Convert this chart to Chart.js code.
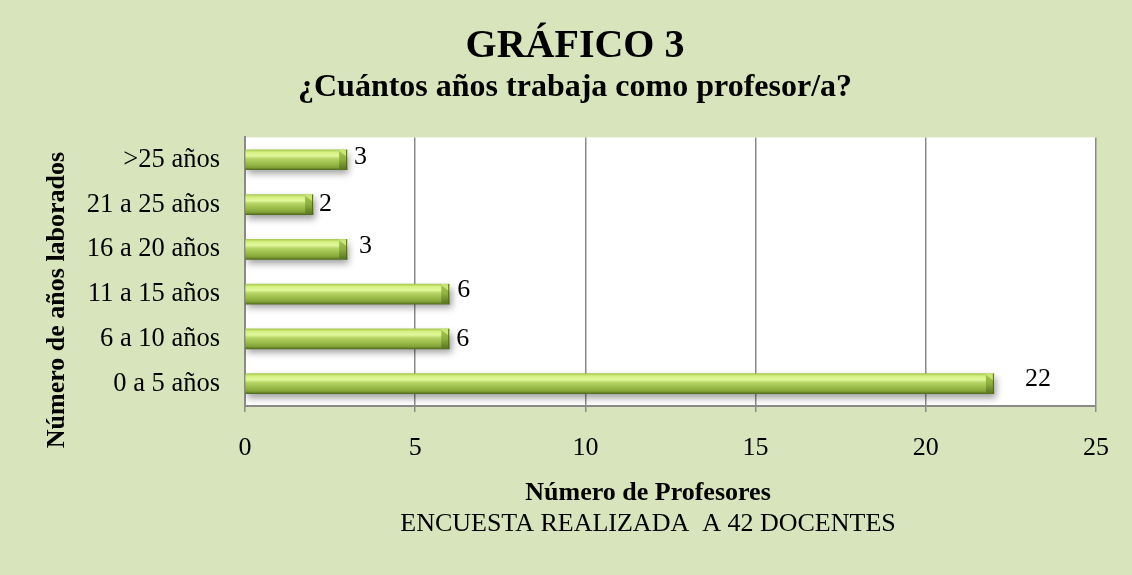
<!DOCTYPE html>
<html>
<head>
<meta charset="utf-8">
<script src="https://cdn.jsdelivr.net/npm/chart.js@4/dist/chart.umd.min.js"></script>
<style>
  html, body { margin: 0; padding: 0; background: #D8E4BC; }
  #wrap { width: 1132px; height: 575px; position: relative; }
</style>
</head>
<body>
<div id="wrap"><canvas id="c" width="1132" height="575"></canvas></div>
<script>
// ---- data ----
const chartTitle = "GRÁFICO 3";
const chartSubtitle = "¿Cuántos años trabaja como profesor/a?";
const xAxisTitle = "Número de Profesores";
const yAxisTitle = "Número de años laborados";
const footNote = "ENCUESTA REALIZADA  A 42 DOCENTES";
const categories = [">25 años", "21 a 25 años", "16 a 20 años", "11 a 15 años", "6 a 10 años", "0 a 5 años"];
const values = [3, 2, 3, 6, 6, 22];
const xTicks = [0, 5, 10, 15, 20, 25];

// ---- styles (label nudges in pixels: [dx from bar end, dy from bar centre]) ----
const labelNudge = [[7, -3], [6, 0], [12, -3], [8, -4], [7, 0], [31, -4]];
const FONT = "'Liberation Serif', 'Times New Roman', serif";
const GRID = '#8a8a8a';

const bgPlugin = {
  id: 'bg',
  beforeDraw(chart) {
    const { ctx, chartArea: a } = chart;
    ctx.save();
    ctx.fillStyle = '#D8E4BC';
    ctx.fillRect(0, 0, chart.width, chart.height);
    ctx.fillStyle = '#ffffff';
    ctx.fillRect(a.left, a.top, a.right - a.left, a.bottom - a.top);
    ctx.restore();
  }
};

const shadowPlugin = {
  id: 'barShadow',
  beforeDatasetDraw(chart) {
    const ctx = chart.ctx;
    ctx.save();
    ctx.shadowColor = 'rgba(0,0,0,0.38)';
    ctx.shadowBlur = 7;
    ctx.shadowOffsetX = 2;
    ctx.shadowOffsetY = 4;
  },
  afterDatasetDraw(chart) {
    chart.ctx.restore();
  }
};

const decoPlugin = {
  id: 'deco',
  afterDatasetsDraw(chart) {
    const ctx = chart.ctx;
    const meta = chart.getDatasetMeta(0);
    meta.data.forEach((bar, i) => {
      const h = bar.height;
      const top = bar.y - h / 2, bottom = bar.y + h / 2;
      const x = bar.x, b = 8;
      // bevel end cap
      ctx.save();
      const g = ctx.createLinearGradient(0, top, 0, bottom);
      g.addColorStop(0, '#a9c852');
      g.addColorStop(0.5, '#8cae3e');
      g.addColorStop(1, '#58731f');
      ctx.fillStyle = g;
      ctx.beginPath();
      ctx.moveTo(x - b, top + 1);
      ctx.lineTo(x, top + 7);
      ctx.lineTo(x, bottom);
      ctx.lineTo(x - b, bottom - 1);
      ctx.closePath();
      ctx.fill();
      ctx.fillStyle = 'rgba(200,228,120,0.9)';
      ctx.beginPath();
      ctx.moveTo(x - b, top);
      ctx.lineTo(x, top);
      ctx.lineTo(x, top + 7);
      ctx.lineTo(x - b, top + 1);
      ctx.closePath();
      ctx.fill();
      ctx.strokeStyle = '#4f6a1c';
      ctx.lineWidth = 1;
      ctx.beginPath();
      ctx.moveTo(x - 0.5, top);
      ctx.lineTo(x - 0.5, bottom);
      ctx.stroke();
      ctx.restore();
      // value label
      const n = labelNudge[i] || [6, 0];
      ctx.save();
      ctx.fillStyle = '#000';
      ctx.font = `26px ${FONT}`;
      ctx.textAlign = 'left';
      ctx.textBaseline = 'middle';
      ctx.fillText(String(values[i]), x + n[0], bar.y + n[1]);
      ctx.restore();
    });
  },
  afterDraw(chart) {
    const ctx = chart.ctx;
    ctx.save();
    ctx.fillStyle = '#000';
    ctx.textAlign = 'center';
    ctx.textBaseline = 'middle';
    ctx.font = `bold 26px ${FONT}`;
    ctx.fillText(xAxisTitle, 648, 493);
    ctx.font = `26px ${FONT}`;
    ctx.fillText(footNote, 648, 524);
    ctx.translate(57, 300);
    ctx.rotate(-Math.PI / 2);
    ctx.font = `bold 26px ${FONT}`;
    ctx.fillText(yAxisTitle, 0, 0);
    ctx.restore();
  }
};

function barFill(context) {
  const chart = context.chart;
  const ys = chart.scales.y;
  if (!ys || !chart.chartArea) return '#9bbb59';
  const cy = ys.getPixelForValue(context.dataIndex);
  const h = 20;
  const g = chart.ctx.createLinearGradient(0, cy - h / 2, 0, cy + h / 2);
  g.addColorStop(0.0, '#a9c94f');
  g.addColorStop(0.12, '#d4ef80');
  g.addColorStop(0.3, '#e2f89c');
  g.addColorStop(0.45, '#b5d465');
  g.addColorStop(0.7, '#9aba48');
  g.addColorStop(0.88, '#84a338');
  g.addColorStop(1.0, '#546d20');
  return g;
}

new Chart(document.getElementById('c'), {
  type: 'bar',
  data: {
    labels: categories,
    datasets: [{
      data: values,
      backgroundColor: barFill,
      borderWidth: 0,
      barThickness: 20
    }]
  },
  options: {
    indexAxis: 'y',
    responsive: false,
    animation: false,
    devicePixelRatio: 1,
    layout: { padding: { top: 25, left: 54, right: 36, bottom: 0 } },
    plugins: {
      legend: { display: false },
      tooltip: { enabled: false },
      title: {
        display: true,
        text: chartTitle,
        color: '#000',
        font: { family: FONT, size: 40, weight: 'bold', lineHeight: 1.1 },
        padding: { top: 0, bottom: 0 }
      },
      subtitle: {
        display: true,
        text: chartSubtitle,
        color: '#000',
        font: { family: FONT, size: 32, weight: 'bold', lineHeight: 1.2 },
        padding: { top: 0, bottom: 30 }
      }
    },
    scales: {
      x: {
        type: 'linear',
        min: 0,
        max: 25,
        afterBuildTicks(scale) { scale.ticks = xTicks.map(v => ({ value: v })); },
        afterFit(scale) { scale.height = 169; },
        grid: { color: GRID, lineWidth: 1.5, drawTicks: true, tickLength: 6, tickColor: GRID },
        border: { display: true, color: GRID, width: 2 },
        ticks: { color: '#000', font: { family: FONT, size: 26 }, padding: 21, maxRotation: 0 }
      },
      y: {
        afterFit(scale) { scale.width = 191; },
        grid: { display: false },
        border: { display: true, color: GRID, width: 2 },
        ticks: { color: '#000', font: { family: FONT, size: 26.5 }, padding: 17 }
      }
    }
  },
  plugins: [bgPlugin, shadowPlugin, decoPlugin]
});
</script>
</body>
</html>
